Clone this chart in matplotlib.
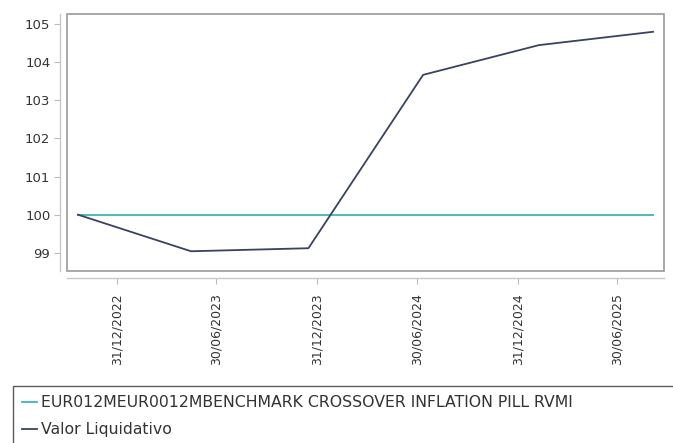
import numpy as np
import pandas as pd
import matplotlib as mpl
mpl.use('Agg')
import matplotlib.pyplot as plt
import matplotlib.dates as mdates
from matplotlib.patches import Rectangle

# datos
fechas = pd.to_datetime(['2022-10-21', '2023-05-15', '2023-12-15',
                         '2024-07-11', '2025-02-07', '2025-09-03'])
valor_liq = [100.0, 99.04, 99.12, 103.67, 104.45, 104.80]
benchmark = [100.0, 100.0, 100.0, 100.0, 100.0, 100.0]

nombre_bench = 'EUR012MEUR0012MBENCHMARK CROSSOVER INFLATION PILL RVMI'
nombre_valor = 'Valor Liquidativo'

ticks_x = pd.to_datetime(['2022-12-31', '2023-06-30', '2023-12-31',
                          '2024-06-30', '2024-12-31', '2025-06-30'])
ticks_y = [99, 100, 101, 102, 103, 104, 105]

mpl.rcParams['font.family'] = ['DejaVu Sans']

W, H = 673, 443
fig = plt.figure(figsize=(W / 100, H / 100), dpi=100)
ax = fig.add_axes([67 / W, (H - 270.7) / H, (664 - 67) / W, (270.7 - 13.5) / H])

l_bench, = ax.plot(fechas, benchmark, color='#3fb3b3', lw=1.3, label=nombre_bench)
l_valor, = ax.plot(fechas, valor_liq, color='#3a4262', lw=1.3, label=nombre_valor)

ax.set_xlim(pd.Timestamp('2022-10-01'), pd.Timestamp('2025-09-23'))
ax.set_ylim(98.53, 105.28)
ax.set_yticks(ticks_y)
ax.set_xticks(ticks_x)
ax.xaxis.set_major_formatter(mdates.DateFormatter('%d/%m/%Y'))

ax.tick_params(axis='both', colors='#bbbbbb', labelcolor='#333333',
               length=4, width=0.8)
ax.tick_params(axis='y', labelsize=9.5, pad=3)
ax.tick_params(axis='x', labelrotation=90, labelsize=9, pad=7)

# marco del area de datos
ax.add_patch(Rectangle((0, 0), 1, 1, transform=ax.transAxes, fill=False,
                       edgecolor='#999999', lw=1.2, clip_on=False, zorder=5))
for s in ['top', 'right']:
    ax.spines[s].set_visible(False)
for s in ['left', 'bottom']:
    ax.spines[s].set_position(('outward', 5))
    ax.spines[s].set_color('#c8c8c8')
    ax.spines[s].set_linewidth(1.0)

leg = fig.legend(handles=[l_bench, l_valor], loc='upper left',
                 bbox_to_anchor=(13 / W, 0, 1.0, (H - 386) / H), mode='expand',
                 fontsize=11.3, frameon=True, fancybox=False,
                 borderaxespad=0, handlelength=0.9, handletextpad=0.3,
                 borderpad=0.6, labelspacing=0.75)
leg.get_frame().set_edgecolor('#333333')
leg.get_frame().set_linewidth(1.0)
for t in leg.get_texts():
    t.set_color('#333333')

fig.savefig('out.png', dpi=100)
